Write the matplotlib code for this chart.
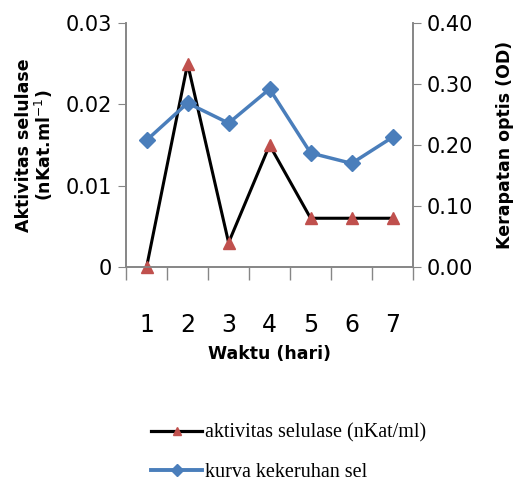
import matplotlib.pyplot as plt
from matplotlib.lines import Line2D

# data
hari = [1, 2, 3, 4, 5, 6, 7]
aktivitas = [0.0, 0.025, 0.003, 0.015, 0.006, 0.006, 0.006]
kekeruhan = [0.208, 0.269, 0.236, 0.292, 0.187, 0.170, 0.213]

grey = '#868686'
fig = plt.figure(figsize=(5.21, 4.82), dpi=100)
ax = fig.add_axes([0.242, 0.446, 0.551, 0.506])
ax2 = ax.twinx()

ax.plot(hari, aktivitas, color='black', lw=2.2, marker='^', ms=8,
        mfc='#c0504d', mec='#c0504d', zorder=3, clip_on=False)
ax2.plot(hari, kekeruhan, color='#4a7ebb', lw=2.5, marker='D', ms=8.5,
         mfc='#4a7ebb', mec='#4a7ebb', zorder=3, clip_on=False)

ax.set_xlim(0.5, 7.5)
ax.set_ylim(0, 0.03)
ax2.set_ylim(0, 0.40)
ax.set_yticks([0, 0.01, 0.02, 0.03])
ax.set_yticklabels(['0', '0.01', '0.02', '0.03'])
ax2.set_yticks([0, 0.1, 0.2, 0.3, 0.4])
ax2.set_yticklabels(['0.00', '0.10', '0.20', '0.30', '0.40'])

# category ticks at the boundaries, labels at the centres
ax.set_xticks([i + 0.5 for i in range(0, 8)])
ax.set_xticklabels([])
ax.set_xticks(hari, minor=True)
ax.set_xticklabels([str(h) for h in hari], minor=True)
ax.tick_params(axis='x', which='major', direction='out', length=9.5, color=grey, width=1)
ax.tick_params(axis='x', which='minor', length=0, pad=33, labelsize=17)

for a in (ax, ax2):
    a.spines['top'].set_visible(False)
    for s in ('left', 'right', 'bottom'):
        a.spines[s].set_color(grey)
        a.spines[s].set_linewidth(1.2)
ax.tick_params(axis='y', direction='out', length=6, color=grey, labelsize=15, pad=4)
ax2.tick_params(axis='y', direction='out', length=6, color=grey, labelsize=15, pad=4)

ax.set_ylabel('Aktivitas selulase\n(nKat.ml$^{-1}$)', fontsize=12.5, fontweight='bold',
              labelpad=8, linespacing=1.0)
ax2.set_ylabel('Kerapatan optis (OD)', fontsize=12.5, fontweight='bold', labelpad=16)
ax.set_xlabel('Waktu (hari)', fontsize=12.5, fontweight='bold', labelpad=6)

handles = [
    Line2D([], [], color='black', lw=2.3, marker='^', ms=6, mfc='#c0504d', mec='#c0504d'),
    Line2D([], [], color='#4a7ebb', lw=2.8, marker='D', ms=6.5, mfc='#4a7ebb', mec='#4a7ebb'),
]
fig.legend(handles, ['aktivitas selulase (nKat/ml)', 'kurva kekeruhan sel'],
           loc='upper left', bbox_to_anchor=(0.275, 0.138), frameon=False,
           prop={'family': 'Liberation Serif', 'size': 14.5}, handlelength=2.5,
           handletextpad=0.15, labelspacing=1.0, borderaxespad=0)

fig.savefig('out.png', dpi=100)
